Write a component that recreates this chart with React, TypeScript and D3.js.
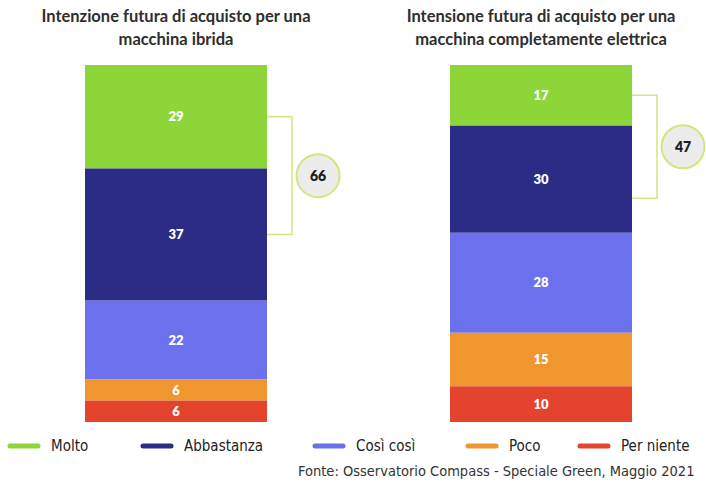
import React from "react";
import * as d3 from "d3";

// Response categories, top to bottom of each stacked bar
const categories = ["Molto", "Abbastanza", "Così così", "Poco", "Per niente"];
const colors = ["#8cd63a", "#2a2c86", "#6b70ec", "#f0962f", "#e4432d"];

// Percent of respondents per category
const hybridValues = [29, 37, 22, 6, 6];
const electricValues = [17, 30, 28, 15, 10];

const hybridTitle = ["Intenzione futura di acquisto per una", "macchina ibrida"];
const electricTitle = ["Intensione futura di acquisto per una", "macchina completamente elettrica"];

// Share that answered "Molto" + "Abbastanza", shown in the badge
const hybridPositive = 66;
const electricPositive = 47;

// Bracket extent, in cumulative percent from the top of the bar
const hybridBracket = [14.5, 47.5];
const electricBracket = [8.5, 37.3];

const source = "Fonte: Osservatorio Compass - Speciale Green, Maggio 2021";

const W = 706;
const H = 485;
const BAR_W = 182;

const y = d3.scaleLinear().domain([0, 100]).range([65, 422]);

const charts = [
  { key: "hybrid", x0: 85, title: hybridTitle, values: hybridValues, total: hybridPositive, bracket: hybridBracket },
  { key: "electric", x0: 450, title: electricTitle, values: electricValues, total: electricPositive, bracket: electricBracket },
];

// Legend swatch left edges
const legendLayout = [8, 141, 313, 466, 578];

const condensed = "'DejaVu Sans Condensed', 'Liberation Sans Narrow', sans-serif";

function StackedBar({ chart }: { chart: any }) {
  const x0 = chart.x0;
  const stack = d3.stack().keys(categories.map((_, i) => String(i)))([
    Object.fromEntries(chart.values.map((v: number, i: number) => [String(i), v])),
  ] as any);
  const cx = x0 + BAR_W / 2;
  const bx = x0 + BAR_W + 25;
  const [b0, b1] = chart.bracket;
  const by0 = y(b0);
  const by1 = y(b1);
  const r = 21.5;
  const ccx = bx + 4.5 + r;
  const ccy = (by0 + by1) / 2;
  return (
    <g>
      <text
        x={cx}
        textAnchor="middle"
        fontFamily="Lato, sans-serif"
        fontWeight={700}
        fontSize={16.5}
        fill="#2e2e2e"
      >
        {chart.title.map((t: string, i: number) => (
          <tspan key={i} x={cx} y={22 + i * 23}>
            {t}
          </tspan>
        ))}
      </text>
      {stack.map((s: any, i: number) => {
        const [a, b] = s[0];
        return (
          <g key={i}>
            <rect x={x0} y={y(a)} width={BAR_W} height={y(b) - y(a)} fill={colors[i]} />
            <text
              x={cx}
              y={(y(a) + y(b)) / 2}
              dy="0.36em"
              textAnchor="middle"
              fontFamily="Lato, sans-serif"
              fontWeight={800}
              fontSize={13}
              fill="#ffffff"
            >
              {chart.values[i]}
            </text>
          </g>
        );
      })}
      <path
        d={`M${x0 + BAR_W},${by0}H${bx}V${by1}H${x0 + BAR_W}`}
        fill="none"
        stroke="#d3e684"
        strokeWidth={1.5}
      />
      <circle cx={ccx} cy={ccy} r={r} fill="#ececec" stroke="#d2e67a" strokeWidth={2} />
      <text
        x={ccx}
        y={ccy}
        dy="0.36em"
        textAnchor="middle"
        fontFamily="Lato, sans-serif"
        fontWeight={800}
        fontSize={14}
        fill="#1e1e1e"
      >
        {chart.total}
      </text>
    </g>
  );
}

export default function App() {
  return (
    <svg
      width={W}
      height={H}
      viewBox={`0 0 ${W} ${H}`}
      style={{ position: "absolute", left: 0, top: 0, background: "#ffffff" }}
    >
      <rect width={W} height={H} fill="#ffffff" />
      {charts.map((c) => (
        <StackedBar key={c.key} chart={c} />
      ))}
      {categories.map((c, i) => {
        const lx = legendLayout[i];
        return (
          <g key={c}>
            <line
              x1={lx + 2}
              x2={lx + 30}
              y1={446}
              y2={446}
              stroke={colors[i]}
              strokeWidth={5}
              strokeLinecap="round"
            />
            <text x={lx + 43} y={446} dy="0.35em" fontFamily={condensed} fontSize={15} fill="#222">
              {c}
            </text>
          </g>
        );
      })}
      <text x={298} y={471} dy="0.35em" fontFamily={condensed} fontSize={14.5} fill="#333">
        {source}
      </text>
    </svg>
  );
}
